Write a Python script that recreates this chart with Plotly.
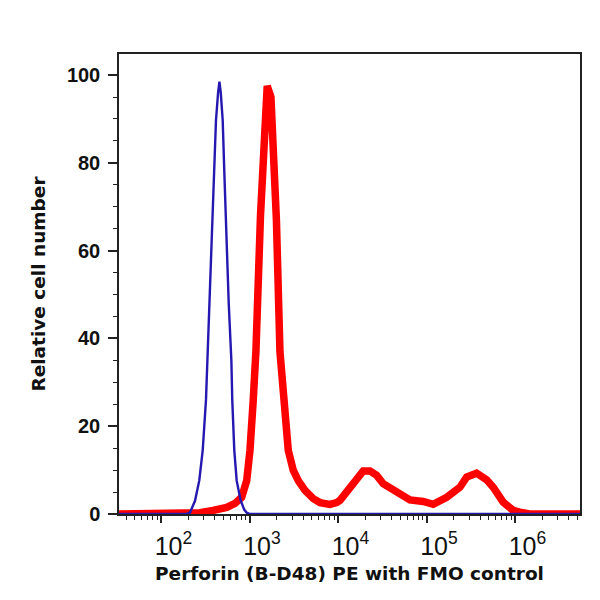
import plotly.graph_objects as go
import numpy as np

# Fluorescence intensity as log10 exponents, with relative cell number values
blue_log_intensity = [1.52, 2.28, 2.322, 2.379, 2.427, 2.466, 2.503, 2.52, 2.55, 2.578, 2.600,
                      2.616, 2.640, 2.655, 2.670, 2.692, 2.710, 2.728, 2.760, 2.790, 2.800,
                      2.823, 2.850, 2.895, 2.935, 2.963, 3.0, 6.73]
blue_counts = [0, 0, 0.3, 3, 7.6, 14.5, 26, 36, 52, 67, 80,
               89.7, 96, 98.5, 96, 89.7, 78, 67, 48, 35, 26,
               14.5, 7.6, 3.1, 1.0, 0.3, 0, 0]

red_log_intensity = [1.52, 2.30, 2.435, 2.582, 2.737, 2.831, 2.906, 2.963, 3.000, 3.037, 3.068,
                     3.119, 3.143, 3.169, 3.195, 3.237, 3.282, 3.299, 3.339, 3.376, 3.433,
                     3.489, 3.546, 3.622, 3.715, 3.791, 3.867, 3.904, 3.980, 4.017, 4.167,
                     4.280, 4.356, 4.432, 4.506, 4.658, 4.808, 4.958, 5.071, 5.223, 5.373,
                     5.449, 5.562, 5.675, 5.749, 5.862, 5.975, 6.051, 6.16, 6.73]
red_counts = [0, 0, 0.3, 0.8, 1.5, 2.4, 3.8, 7.6, 14.5, 25.9, 37.3,
              68, 78, 89.7, 97.5, 95, 78, 67, 37, 25.9, 14.5,
              10, 7.6, 5.4, 3.5, 2.6, 2.2, 2.2, 2.6, 3.1, 6.9,
              9.8, 9.8, 8.8, 6.9, 5.0, 3.2, 2.85, 2.2, 3.8, 6.1,
              8.4, 9.3, 7.8, 6.1, 2.7, 0.8, 0.4, 0, 0]

y_tick_values = [0, 20, 40, 60, 80, 100]

fig = go.Figure()
fig.add_trace(go.Scatter(x=np.power(10.0, red_log_intensity), y=red_counts, mode="lines",
                         line=dict(color="#ff0000", width=7.5), name="Perforin (B-D48) PE"))
fig.add_trace(go.Scatter(x=np.power(10.0, blue_log_intensity), y=blue_counts, mode="lines",
                         line=dict(color="#2418b0", width=2.4), name="FMO control"))

axis_color = "#222222"
ytick_font = dict(family="Liberation Sans, Arial, sans-serif", size=20, color="#111111", weight="bold")
xtick_font = dict(family="Liberation Sans Narrow, Liberation Sans, Arial, sans-serif", size=20,
                  color="#111111")
title_font = dict(family="DejaVu Sans, Liberation Sans, sans-serif", size=18.5, color="#111111", weight="bold")

fig.update_layout(
    width=600, height=600,
    margin=dict(l=119, r=20, t=54, b=86),
    paper_bgcolor="white", plot_bgcolor="white",
    showlegend=False,
    xaxis=dict(
        type="log", range=[1.52, 6.73], dtick=1, exponentformat="power",
        showgrid=False, zeroline=False,
        showline=True, linecolor=axis_color, linewidth=1.5, mirror=True,
        ticks="outside", ticklen=7, tickwidth=1.5, tickcolor=axis_color,
        minor=dict(ticks="outside", ticklen=4, tickwidth=1, tickcolor=axis_color, dtick="D1", showgrid=False),
        tickfont=xtick_font, ticklabelshift=12, ticklabelstandoff=3,
        title=dict(text="Perforin (B-D48) PE with FMO control", font=title_font, standoff=8),
    ),
    yaxis=dict(
        range=[0, 104.8], tickvals=y_tick_values,
        showgrid=False, zeroline=False,
        showline=True, linecolor=axis_color, linewidth=1.5, mirror=True,
        ticks="outside", ticklen=9, tickwidth=1.5, tickcolor=axis_color,
        minor=dict(ticks="outside", ticklen=4, tickwidth=1, tickcolor=axis_color, dtick=5, showgrid=False),
        tickfont=ytick_font, ticklabelstandoff=4,
        title=dict(text="Relative cell number", font=title_font, standoff=16),
    ),
)

fig.write_html("out.html")
